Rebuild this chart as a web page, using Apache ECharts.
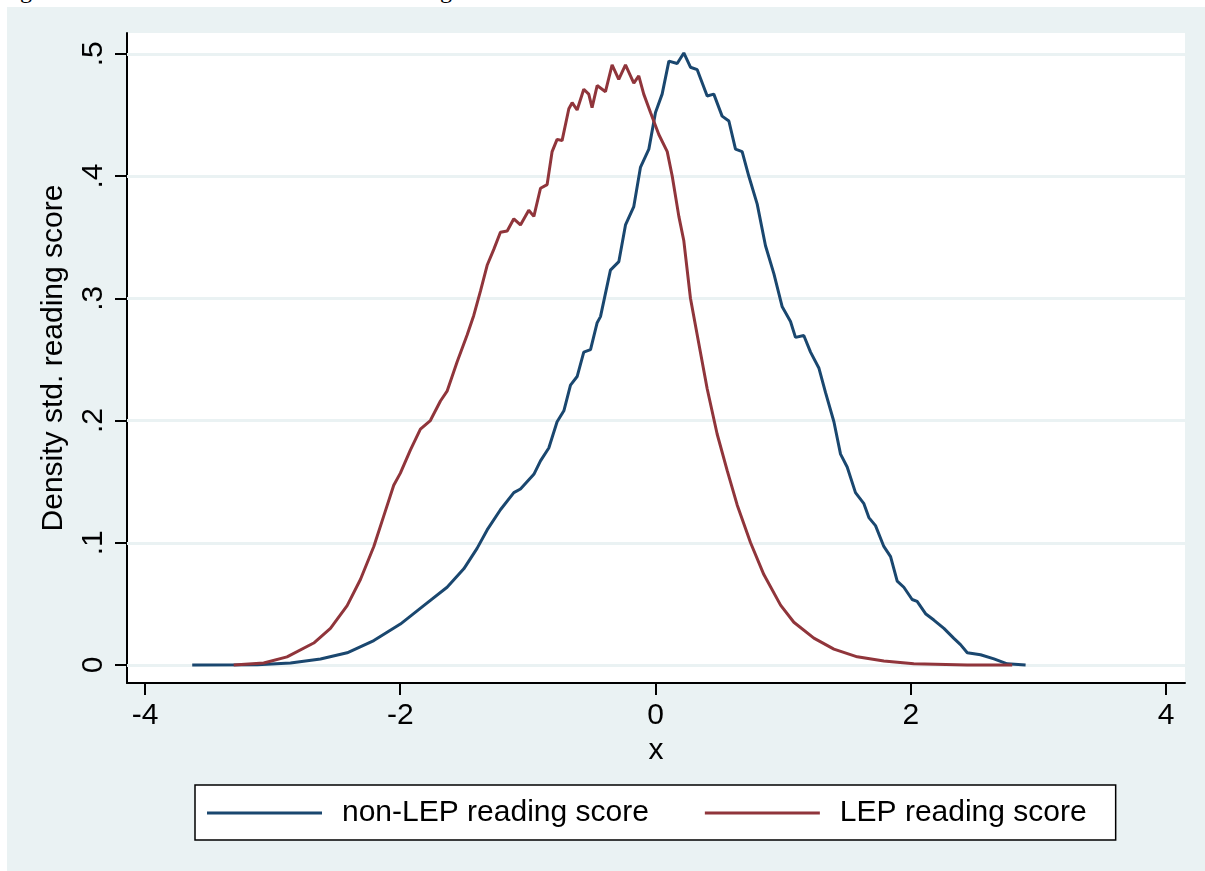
<!DOCTYPE html>
<html>
<head>
<meta charset="utf-8">
<script src="https://cdn.jsdelivr.net/npm/echarts@6/dist/echarts.min.js"></script>
<style>
  body { margin: 0; background: #fff; width: 1205px; height: 871px; overflow: hidden; position: relative; }
  #cap { position: absolute; left: 0; top: -23px; font: 24px 'Liberation Serif', serif; color: #000; white-space: nowrap; }
  #chart { position: absolute; left: 7px; top: 7px; width: 1198px; height: 864px; }
</style>
</head>
<body>
<div id="cap">Figure 4. Distribution of Standardized Reading IRT Test Scores</div>
<div id="chart"></div>
<script>
// kernel density, non-LEP
var xNonLep = [-3.63, -3.12, -2.86, -2.625, -2.416, -2.207, -1.999, -1.816, -1.633, -1.502, -1.398, -1.319, -1.215, -1.11, -1.058,
  -0.953, -0.901, -0.836, -0.771, -0.718, -0.666, -0.614, -0.562, -0.509, -0.457, -0.431, -0.353, -0.287, -0.235, -0.17, -0.118,
  -0.052, 0, 0.052, 0.105, 0.17, 0.222, 0.274, 0.327, 0.405, 0.457, 0.522, 0.575, 0.627, 0.679, 0.731, 0.797, 0.862, 0.928,
  0.993, 1.058, 1.097, 1.162, 1.215, 1.28, 1.332, 1.398, 1.45, 1.502, 1.567, 1.633, 1.672, 1.724, 1.789, 1.842, 1.894, 1.946,
  2.011, 2.05, 2.116, 2.181, 2.26, 2.338, 2.39, 2.443, 2.547, 2.652, 2.756, 2.9];
var yNonLep = [0, 0.0003, 0.0017, 0.005, 0.01, 0.02, 0.0335, 0.0486, 0.0636, 0.0787, 0.0954, 0.1105, 0.127, 0.141, 0.144,
  0.156, 0.167, 0.1775, 0.199, 0.208, 0.229, 0.236, 0.256, 0.258, 0.28, 0.285, 0.323, 0.33, 0.36, 0.375, 0.407,
  0.422, 0.452, 0.467, 0.494, 0.492, 0.5007, 0.489, 0.487, 0.4655, 0.467, 0.449, 0.445, 0.422, 0.42, 0.4, 0.377, 0.343, 0.32,
  0.293, 0.281, 0.268, 0.2696, 0.256, 0.243, 0.223, 0.199, 0.1725, 0.162, 0.141, 0.132, 0.1206, 0.114, 0.097, 0.0887, 0.0687, 0.0636,
  0.0536, 0.052, 0.042, 0.0368, 0.03, 0.0218, 0.0167, 0.01, 0.0084, 0.005, 0.001, 0];

// kernel density, LEP
var xLep = [-3.305, -3.07, -2.887, -2.678, -2.547, -2.416, -2.312, -2.207, -2.129, -2.051, -1.999, -1.92, -1.842, -1.764, -1.685,
  -1.633, -1.554, -1.476, -1.424, -1.371, -1.319, -1.267, -1.215, -1.162, -1.11, -1.058, -0.993, -0.953, -0.901, -0.849, -0.81,
  -0.771, -0.732, -0.679, -0.653, -0.614, -0.562, -0.523, -0.497, -0.457, -0.392, -0.34, -0.288, -0.235, -0.17, -0.131, -0.092,
  -0.039, 0.026, 0.092, 0.131, 0.183, 0.222, 0.274, 0.327, 0.405, 0.483, 0.562, 0.64, 0.745, 0.849, 0.98, 1.084, 1.241, 1.398,
  1.581, 1.789, 2.024, 2.443, 2.795];
var yLep = [0, 0.0017, 0.0067, 0.018, 0.03, 0.0486, 0.07, 0.097, 0.122, 0.147, 0.157, 0.176, 0.193, 0.2, 0.216,
  0.224, 0.248, 0.27, 0.286, 0.306, 0.327, 0.34, 0.354, 0.355, 0.365, 0.36, 0.372, 0.367, 0.39, 0.393, 0.42,
  0.43, 0.429, 0.455, 0.46, 0.454, 0.471, 0.467, 0.456, 0.474, 0.469, 0.491, 0.479, 0.491, 0.476, 0.482, 0.467,
  0.452, 0.434, 0.42, 0.4, 0.367, 0.347, 0.3, 0.27, 0.226, 0.189, 0.159, 0.131, 0.1, 0.074, 0.049, 0.035, 0.022, 0.013,
  0.0067, 0.0033, 0.001, 0, 0];

var xTicks = [-4, -2, 0, 2, 4];
var yTicks = [0, 0.1, 0.2, 0.3, 0.4, 0.5];
var seriesNames = ['non-LEP reading score', 'LEP reading score'];

function pairs(xs, ys) {
  return xs.map(function (x, i) { return [x, ys[i]]; });
}

var font = "'Liberation Sans', Arial, sans-serif";
var chart = echarts.init(document.getElementById('chart'));
chart.setOption({
  backgroundColor: '#EAF2F3',
  animation: false,
  textStyle: { fontFamily: font, color: '#000' },
  grid: {
    left: 120, right: 20, top: 26, bottom: 188,
    show: true, backgroundColor: '#fff', borderWidth: 0
  },
  legend: {
    data: seriesNames,
    icon: 'rect',
    left: 188, top: 778,
    orient: 'horizontal',
    backgroundColor: '#fff',
    borderColor: '#000', borderWidth: 1.5, borderRadius: 0,
    padding: [13, 29, 12, 12],
    itemWidth: 115, itemHeight: 3, itemGap: 56,
    textStyle: { fontSize: 30, fontFamily: font, color: '#000', padding: [0, 0, 0, 15] }
  },
  xAxis: {
    type: 'value', min: -4.141, max: 4.149,
    name: 'x', nameLocation: 'middle', nameGap: 50,
    nameTextStyle: { fontSize: 30, fontFamily: font, color: '#000' },
    axisLine: { onZero: false, lineStyle: { color: '#000', width: 2 } },
    axisTick: { customValues: xTicks, length: 12, lineStyle: { color: '#000', width: 2 } },
    axisLabel: { customValues: xTicks, margin: 18, fontSize: 30, color: '#000', fontFamily: font },
    splitLine: { show: false }
  },
  yAxis: {
    type: 'value', min: -0.0147, max: 0.517,
    name: 'Density std. reading score', nameLocation: 'middle', nameGap: 58,
    nameTextStyle: { fontSize: 30, fontFamily: font, color: '#000' },
    axisLine: { onZero: false, lineStyle: { color: '#000', width: 2 } },
    axisTick: { customValues: yTicks, length: 12, lineStyle: { color: '#000', width: 2 } },
    axisLabel: {
      customValues: yTicks, rotate: 90, margin: 18, fontSize: 30, color: '#000', fontFamily: font,
      formatter: function (v) { return v === 0 ? '0' : String(+v.toFixed(1)).replace(/^0/, ''); }
    },
    splitLine: { show: false }
  },
  series: [
    {
      name: 'grid', type: 'line', data: [], silent: true, z: 1,
      markLine: {
        silent: true, symbol: 'none', z: 1, animation: false,
        label: { show: false },
        lineStyle: { color: '#EAF2F3', width: 3, type: 'solid' },
        data: yTicks.map(function (v) { return { yAxis: v }; })
      }
    },
    {
      name: seriesNames[0], type: 'line', data: pairs(xNonLep, yNonLep),
      symbol: 'none', z: 3, lineStyle: { color: '#1A476F', width: 3 }, itemStyle: { color: '#1A476F' }
    },
    {
      name: seriesNames[1], type: 'line', data: pairs(xLep, yLep),
      symbol: 'none', z: 3, lineStyle: { color: '#90353B', width: 3 }, itemStyle: { color: '#90353B' }
    }
  ]
});
</script>
</body>
</html>
